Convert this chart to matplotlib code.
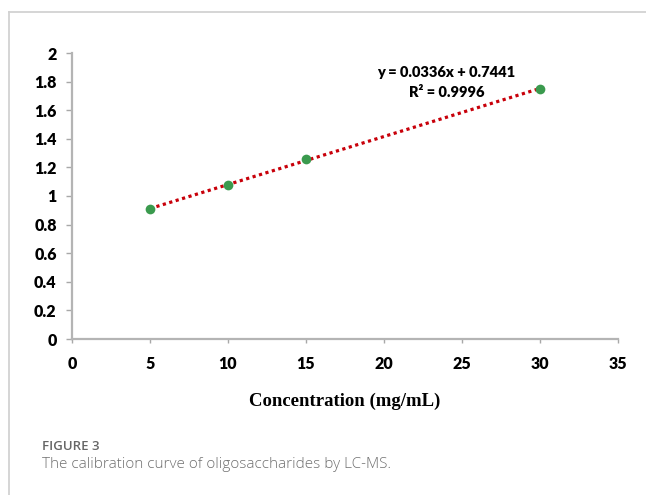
import matplotlib
matplotlib.use('Agg')
import numpy as np
import matplotlib.pyplot as plt
from matplotlib.lines import Line2D

# calibration standards
conc = [5, 10, 15, 30]
signal = [0.912, 1.075, 1.262, 1.746]

# linear fit reported on the chart
slope = 0.0336
intercept = 0.7441
r2 = 0.9996

xticks = [0, 5, 10, 15, 20, 25, 30, 35]
yticks = [0, 0.2, 0.4, 0.6, 0.8, 1, 1.2, 1.4, 1.6, 1.8, 2]
ytick_labels = ['0', '0.2', '0.4', '0.6', '0.8', '1', '1.2', '1.4', '1.6', '1.8', '2']

fig = plt.figure(figsize=(6.46, 4.95), dpi=100)
ax = fig.add_axes([72/646, 1-339/495, (618-72)/646, (339-53)/495])

# frame around the chart panel
box = '#d2d2d2'
fig.add_artist(Line2D([9/646, 9/646], [0, 1-12/495], color=box, lw=1.3))
fig.add_artist(Line2D([9/646, 1], [1-12/495, 1-12/495], color=box, lw=1.3))

xfit = np.array([conc[0], conc[-1]])
ax.plot(xfit, slope*xfit + intercept, color='#c8000a', lw=2.3,
        linestyle=(0, (1, 1.1)), zorder=2)
ax.plot(conc, signal, 'o', color='#3a9a4e', markersize=7,
        markeredgewidth=0, zorder=3)

ax.text(24.0, 1.865, 'y = 0.0336x + 0.7441', ha='center', va='center',
        fontsize=10.5, fontweight='heavy', family='Lato')
ax.text(24.0, 1.725, 'R² = %.4f' % r2, ha='center', va='center',
        fontsize=10.5, fontweight='heavy', family='Lato')

ax.set_xlim(0, 35)
ax.set_ylim(0, 2)
ax.set_xticks(xticks)
ax.set_yticks(yticks)
ax.set_yticklabels(ytick_labels)
for lab in ax.get_xticklabels() + ax.get_yticklabels():
    lab.set_family('Lato')
    lab.set_fontweight('heavy')
    lab.set_fontsize(11.5)
ax.tick_params(axis='y', length=4, width=1, color='#a8a8a8', pad=7)
ax.tick_params(axis='x', length=3, width=1, color='#a8a8a8', pad=9)
for s in ['top', 'right']:
    ax.spines[s].set_visible(False)
for s in ['left', 'bottom']:
    ax.spines[s].set_color('#b4b4b4')
    ax.spines[s].set_linewidth(1.6)

ax.set_xlabel('Concentration (mg/mL)', family='Liberation Serif',
              fontweight='bold', fontsize=13.5, labelpad=15)

fig.text(42/646, 1-446/495, 'FIGURE 3', family='Open Sans', fontsize=9.5,
         color='#666666', va='center', ha='left', fontweight='semibold')
fig.text(42/646, 1-464/495, 'The calibration curve of oligosaccharides by LC-MS.',
         family='Open Sans', fontsize=11, color='#707070', va='center',
         ha='left', fontweight='light')

fig.savefig('out.png', dpi=100)
